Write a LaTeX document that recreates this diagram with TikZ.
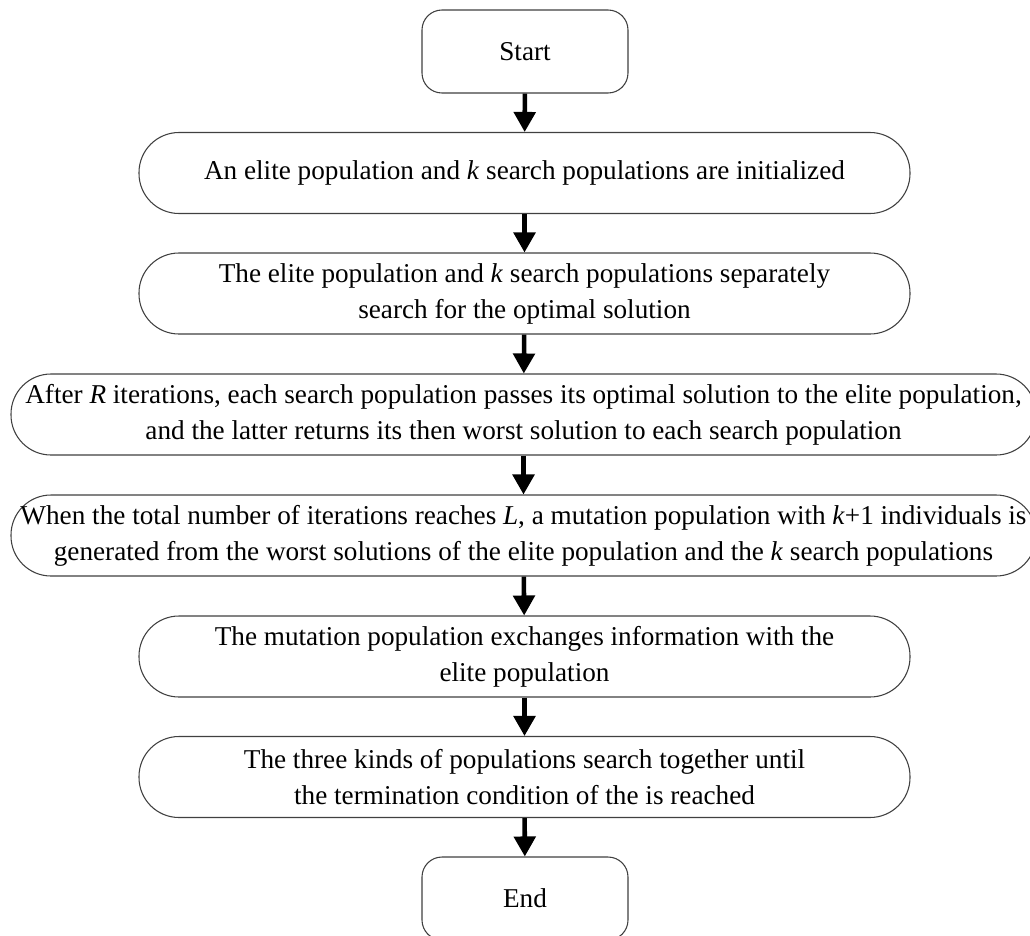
\documentclass[tikz,border=0pt]{standalone}
\usepackage{fontspec}
\setmainfont{Liberation Serif}
\usetikzlibrary{arrows.meta}
\begin{document}
\begin{tikzpicture}[x=0.75pt,y=-0.75pt,
  box/.style={draw=black!75, line width=0.8pt, fill=white, align=center,
    inner sep=0pt, minimum height=60.75pt, rounded corners=30pt,
    font=\fontsize{20.4pt}{27pt}\selectfont},
  term/.style={box, minimum width=154.5pt, minimum height=62.25pt, rounded corners=15pt},
  mid/.style={box, minimum width=578.25pt},
  wide/.style={box, minimum width=768.75pt},
  flow/.style={line width=3.4pt, -{Triangle[width=16pt,length=15pt]}}]
\useasboundingbox (0,0) rectangle (1030,935);
\node[term] (start) at (525,51.5) {Start};
\node[mid] (b2) at (524.5,173) {An elite population and \textit{k} search populations are initialized};
\node[mid] (b3) at (524.5,293.5) {The elite population and \textit{k} search populations separately\\search for the optimal solution};
\node[wide] (b4) at (523.5,414.5) {After \textit{R} iterations, each search population passes its optimal solution to the elite population,\\and the latter returns its then worst solution to each search population};
\node[wide] (b5) at (523.5,535.5) {When the total number of iterations reaches \textit{L}, a mutation population with \textit{k}+1 individuals is\\generated from the worst solutions of the elite population and the \textit{k} search populations};
\node[mid] (b6) at (524.5,656.5) {The mutation population exchanges information with the\\elite population};
\node[mid] (b7) at (524.5,777) {The three kinds of populations search together until\\the termination condition of the is reached};
\node[term] (end) at (525,898.5) {End};
\draw[flow] (start) -- (b2);
\draw[flow] (b2) -- (b3);
\draw[flow] (b3) -- (b4);
\draw[flow] (b4) -- (b5);
\draw[flow] (b5) -- (b6);
\draw[flow] (b6) -- (b7);
\draw[flow] (b7) -- (end);
\end{tikzpicture}
\end{document}
